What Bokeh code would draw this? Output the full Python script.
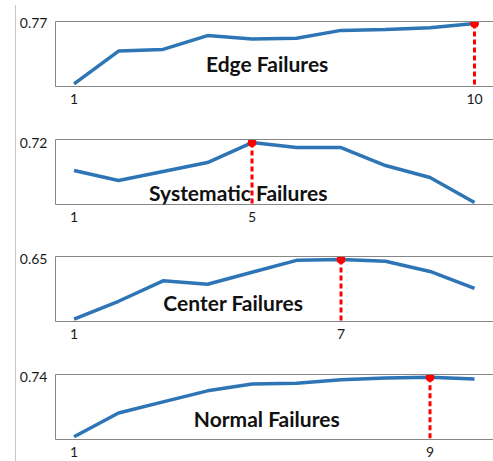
from bokeh.plotting import figure
from bokeh.models import (FixedTicker, LinearAxis, Label, Range1d, Div,
                          NumeralTickFormatter)
from bokeh.layouts import column, row
from bokeh.embed import file_html
from bokeh.resources import INLINE

# iteration index shared by all four panels
iterations = [1, 2, 3, 4, 5, 6, 7, 8, 9, 10]

# accuracy per iteration for each failure type
edge_acc = [0.700, 0.738, 0.740, 0.756, 0.752, 0.753, 0.762, 0.763, 0.765, 0.770]
systematic_acc = [0.692, 0.682, 0.691, 0.700, 0.720, 0.715, 0.715, 0.697, 0.685, 0.660]
center_acc = [0.580, 0.601, 0.625, 0.621, 0.635, 0.649, 0.650, 0.648, 0.636, 0.616]
normal_acc = [0.670, 0.698, 0.711, 0.724, 0.732, 0.733, 0.737, 0.739, 0.740, 0.738]

titles = ["Edge Failures", "Systematic Failures", "Center Failures", "Normal Failures"]
series = [edge_acc, systematic_acc, center_acc, normal_acc]

# vertical extent of each panel
y_limits = [(0.697, 0.7723), (0.658, 0.7231), (0.5773, 0.6535), (0.6668, 0.7432)]
# where each panel title sits (x in iterations, y as fraction of the panel height)
title_pos = [(5.34, 0.35), (4.69, 0.18), (4.58, 0.30), (5.33, 0.33)]
fig_heights = [118, 117, 118, 108]

FONT = "Lato"
AXIS_GRAY = "#868686"
BLUE = "#2e75b6"
RED = "#ff0000"


def panel(values, title, ylim, tpos, h):
    lo, hi = ylim
    best = max(range(len(values)), key=lambda i: values[i])
    bx, by = iterations[best], values[best]

    p = figure(width=477, height=h,
               x_range=Range1d(0.583, 10.427), y_range=Range1d(lo, hi),
               output_backend="svg", toolbar_location=None,
               min_border_left=36, min_border_right=0,
               min_border_top=21, min_border_bottom=h - 21 - 65)
    p.outline_line_color = None
    p.grid.visible = False

    xa = p.xaxis[0]
    xa.ticker = FixedTicker(ticks=[1, bx])
    ya = p.yaxis[0]
    ya.ticker = FixedTicker(ticks=[by])
    ya.formatter = NumeralTickFormatter(format="0.00")
    for ax in (xa, ya):
        ax.axis_line_color = AXIS_GRAY
        ax.axis_line_width = 1
        ax.major_tick_out = 0
        ax.major_tick_in = 0
        ax.minor_tick_out = 0
        ax.minor_tick_in = 0
        ax.major_label_text_font = FONT
        ax.major_label_text_font_size = "14px"
        ax.major_label_text_color = "#1a1a1a"
    xa.major_label_standoff = 7
    ya.major_label_standoff = 8

    top = LinearAxis(ticker=FixedTicker(ticks=[]), major_tick_out=0,
                     major_tick_in=0, minor_tick_out=0, minor_tick_in=0,
                     major_label_text_font_size="0px", major_label_standoff=0,
                     axis_line_color=AXIS_GRAY, axis_line_width=1)
    p.add_layout(top, "above")

    p.line(iterations, values, line_color=BLUE, line_width=3.5)
    p.segment(x0=[bx], y0=[by], x1=[bx], y1=[lo], line_color=RED,
              line_width=3, line_dash="5 3")
    p.scatter([bx], [by], size=8, fill_color=RED, line_color=RED)

    p.add_layout(Label(x=tpos[0], y=lo + tpos[1] * (hi - lo), text=title,
                       text_font=FONT, text_font_style="bold",
                       text_font_size="21px", text_color="#111111",
                       text_align="center", text_baseline="middle"))
    return p


panels = [panel(v, t, yl, tp, h)
          for v, t, yl, tp, h in zip(series, titles, y_limits, title_pos, fig_heights)]

rule = Div(width=16, height=456, margin=(5, 0, 0, 0),
           styles={"border-right": "1px solid #c8c8c8",
                   "box-sizing": "border-box"})

layout = row(rule, column(*panels, spacing=0), spacing=0)

open("out.html", "w").write(file_html(layout, INLINE))
